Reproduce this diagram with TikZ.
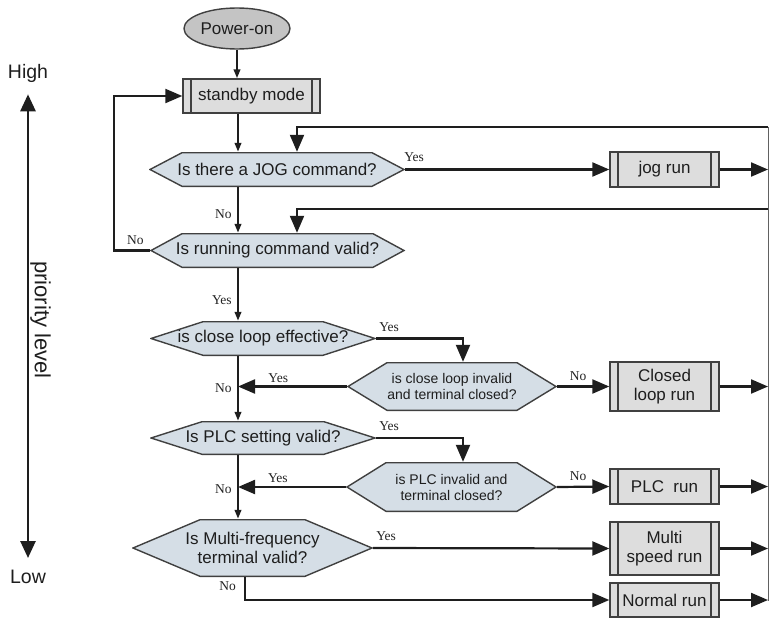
\documentclass[tikz,border=0pt]{standalone}
\usepackage{fontspec}
\setmainfont{Liberation Sans}
\newfontfamily\yesnofont{Liberation Serif}
\usepackage{tikz}
\usetikzlibrary{shapes, arrows.meta, positioning}

\definecolor{decfill}{RGB}{213,222,230}
\definecolor{boxfill}{RGB}{221,221,221}
\definecolor{powfill}{RGB}{196,196,196}
\definecolor{edge}{RGB}{64,64,64}
\definecolor{ink}{RGB}{30,30,30}
\definecolor{lblink}{RGB}{35,35,35}

\begin{document}
\begin{tikzpicture}[
			x=1pt, y=-1pt,
			hexslant/.store in=\hexslant, hexslant=40pt,
			start/.style={ellipse, draw=edge, line width=1.4pt, fill=powfill, minimum width=106pt, minimum height=41pt, inner sep=0pt, text=ink, font=\fontsize{17}{19}\selectfont},
			proc/.style={rectangle, draw=edge, line width=1.4pt, fill=boxfill, minimum width=109pt, inner sep=0pt, align=center, text=ink, font=\fontsize{17}{19}\selectfont,
				path picture={\draw[edge, line width=1.2pt]
					([xshift=8pt]path picture bounding box.north west) -- ([xshift=8pt]path picture bounding box.south west)
					([xshift=-8pt]path picture bounding box.north east) -- ([xshift=-8pt]path picture bounding box.south east);}},
			query/.style={rectangle, draw, draw opacity=0, inner sep=0pt, align=center, text=ink, font=\fontsize{17}{19}\selectfont,
				path picture={\path[fill=decfill, draw=edge, draw opacity=1, line width=1.4pt]
					([xshift=1pt]path picture bounding box.west)
					-- ([xshift=\hexslant, yshift=-.7pt]path picture bounding box.north west)
					-- ([xshift=-\hexslant, yshift=-.7pt]path picture bounding box.north east)
					-- ([xshift=-1pt]path picture bounding box.east)
					-- ([xshift=-\hexslant, yshift=.7pt]path picture bounding box.south east)
					-- ([xshift=\hexslant, yshift=.7pt]path picture bounding box.south west)
					-- cycle;}},
			smalltext/.style={font=\fontsize{14}{16}\selectfont},
			lbl/.style={font=\yesnofont\fontsize{13.5}{15}\selectfont, text=lblink, inner sep=0pt},
			prio/.style={font=\fontsize{19.5}{22}\selectfont, text=ink, inner xsep=0pt, inner ysep=12pt},
			arr/.style={-{Triangle[length=17pt, width=14pt]}, line width=2.2pt, draw=ink},
			sarr/.style={-{Triangle[length=9pt, width=6.5pt]}, line width=2.6pt, draw=ink},
			fb/.style={-{Triangle[length=17pt, width=14pt]}, line width=2pt, draw=ink},
			edgeline/.style={line width=1pt, draw=ink!70}
			]
			\useasboundingbox (0,0) rectangle (770,618);
			\coordinate (spine) at (238,0);
			\coordinate (loopx) at (114,0);
			\coordinate (fbx) at (297,0);
			\coordinate (turnx) at (463,0);
			\coordinate (nox) at (245,0);
			\coordinate (rtop) at (768,127);
			\coordinate (rmid) at (768,209);
			\coordinate (rbot) at (768,601);

			\node[start] (power) at (237,28.5) {Power-on};
			\node[proc, minimum width=137pt, minimum height=34pt] (standby) at (251.5,96) {standby mode};
			\node[query, minimum width=256pt, minimum height=35pt, hexslant=33pt] (jogq) at (277,169.5) {Is there a JOG command?};
			\node[query, minimum width=255pt, minimum height=35pt, hexslant=32pt] (runq) at (277.5,250.5) {Is running command valid?};
			\node[query, minimum width=226pt, minimum height=35pt, hexslant=53pt] (loopq) at (263,338.5) {is close loop effective?};
			\node[query, smalltext, minimum width=210pt, minimum height=49pt, hexslant=40pt] (loopoff) at (452,386.5) {is close loop invalid\\and terminal closed?};
			\node[query, minimum width=226pt, minimum height=34pt, hexslant=52pt] (plcq) at (263,438) {Is PLC setting valid?};
			\node[query, smalltext, minimum width=211pt, minimum height=50pt, hexslant=40pt] (plcoff) at (451.5,487) {is PLC invalid and\\terminal closed?};
			\node[query, minimum width=241pt, minimum height=58pt, hexslant=68pt] (multq) at (252.5,548) {Is Multi-frequency\\terminal valid?};

			\node[proc, minimum height=35pt] (jogrun) at (664.5,169.5) {jog run};
			\node[proc, minimum height=49pt] (looprun) at (664.5,386.5) {Closed\\loop run};
			\node[proc, minimum height=35pt] (plcrun) at (664.5,486.5) {PLC\ \ run};
			\node[proc, minimum height=53pt] (multirun) at (664.5,548.5) {Multi\\speed run};
			\node[proc, minimum height=34pt] (normrun) at (664.5,600) {Normal run};

			\node[prio] (high) at (28,73) {High};
			\node[prio] (low) at (28,577) {Low};
			\node[prio, inner ysep=0pt, font=\fontsize{22}{24}\selectfont, rotate=-90] (level) at (40.5,320) {priority level};
			\draw[{Triangle[length=17pt, width=15pt]}-{Triangle[length=17pt, width=15pt]}, line width=2.6pt, draw=ink] (high.south) -- (low.north);

			\draw[sarr] (power.south) -- (power.south |- standby.north);
			\draw[sarr] (standby.south -| spine) -- (jogq.north -| spine);
			\draw[sarr] (jogq.south -| spine) -- node[lbl, pos=.6, left=5pt] (ljogno) {No} (runq.north -| spine);
			\draw[sarr] (runq.south -| spine) -- node[lbl, pos=.6, left=5pt] (lrunyes) {Yes} (loopq.north -| spine);
			\draw[sarr] (loopq.south -| spine) -- node[lbl, pos=.5, left=5pt] (lloopno) {No} (plcq.north -| spine);
			\draw[sarr] (plcq.south -| spine) -- node[lbl, pos=.53, left=5pt] (lplcno) {No} (multq.north -| spine);

			\draw[arr] (runq.west) -- node[lbl, pos=.4, above=5pt] (lrunno) {No} (runq.west -| loopx) |- (standby.west);
			\draw[arr] (jogq.east) -- node[lbl, pos=0, above right=7pt and -2pt] (ljogyes) {Yes} (jogrun.west);
			\draw[fb] (rtop) -| (fbx |- jogq.north);
			\draw[fb] (rmid) -| (fbx |- runq.north);
			\draw[edgeline] (rtop) -- (rbot);

			\draw[arr] (loopq.east) -- node[lbl, pos=0, above right=6pt and 2pt] (lloopyes) {Yes} (loopq.east -| turnx) -- (turnx |- loopoff.north);
			\draw[arr] (loopoff.west) -- node[lbl, pos=.63, above=3pt] (loffyes) {Yes} (loopoff.west -| spine);
			\draw[arr] (loopoff.east) -- node[lbl, pos=.4, above=5pt] (loffno) {No} (looprun.west);

			\draw[arr] (plcq.east) -- node[lbl, pos=0, above right=6pt and 2pt] (lplcyes) {Yes} (plcq.east -| turnx) -- (turnx |- plcoff.north);
			\draw[arr] (plcoff.west) -- node[lbl, pos=.63, above=3pt] (poffyes) {Yes} (plcoff.west -| spine);
			\draw[arr] (plcoff.east) -- node[lbl, pos=.4, above=5pt] (poffno) {No} (plcrun.west);

			\draw[arr] (multq.east) -- node[lbl, pos=0, above right=6pt and 2pt] (lmultyes) {Yes} (multirun.west);
			\draw[arr] (multq.south -| nox) |- node[lbl, pos=.2, left=8pt] (lmultno) {No} (normrun.west);

			\draw[arr] (jogrun.east) -- (jogrun.east -| rtop);
			\draw[arr] (looprun.east) -- (looprun.east -| rtop);
			\draw[arr] (plcrun.east) -- (plcrun.east -| rtop);
			\draw[arr] (multirun.east) -- (multirun.east -| rtop);
			\draw[arr] (normrun.east) -- (normrun.east -| rtop);
		\end{tikzpicture}
\end{document}
